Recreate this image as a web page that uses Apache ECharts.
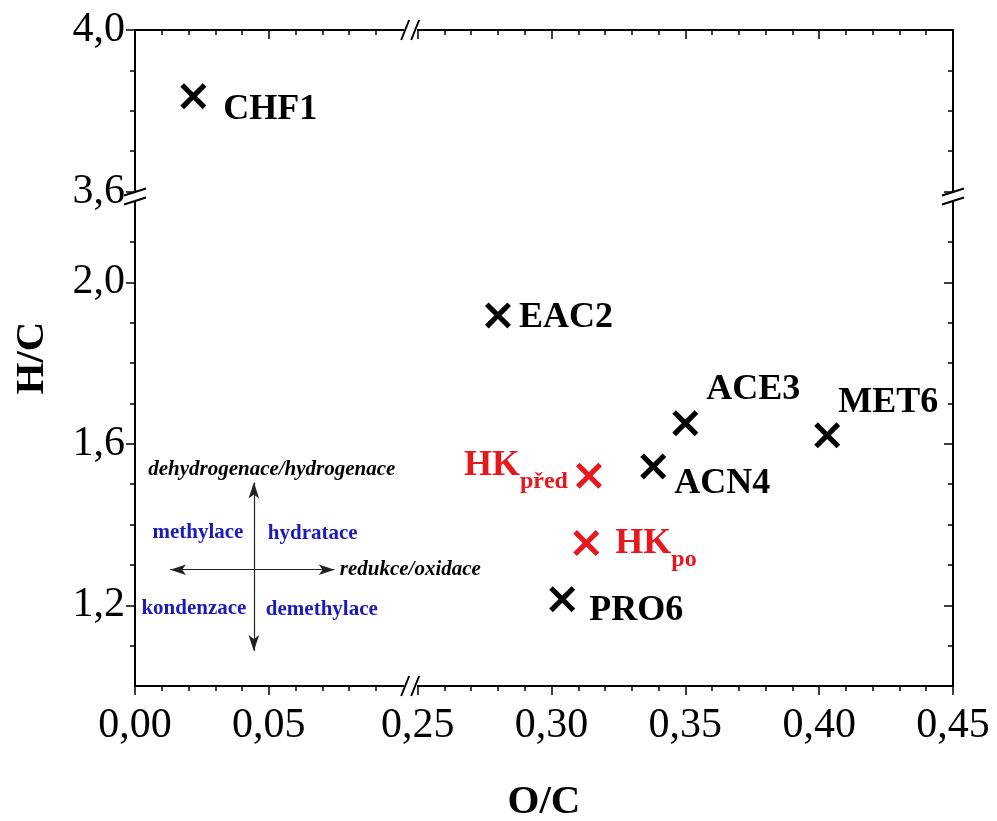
<!DOCTYPE html>
<html>
<head>
<meta charset="utf-8">
<script src="https://cdn.jsdelivr.net/npm/echarts@6/dist/echarts.min.js"></script>
<style>
  html, body { margin: 0; padding: 0; background: #fff; }
  #chart { width: 997px; height: 821px; }
</style>
</head>
<body>
<div id="chart"></div>
<script>
// samples: O/C and H/C ratios
const sampleNames = ['CHF1', 'EAC2', 'ACE3', 'ACN4', 'MET6', 'PRO6'];
const sampleOC = [0.0218, 0.280, 0.350, 0.338, 0.403, 0.304];
const sampleHC = [3.836, 1.918, 1.651, 1.544, 1.621, 1.215];

// HK before / after (red)
const hkNames = ['před', 'po'];
const hkOC = [0.314, 0.313];
const hkHC = [1.521, 1.354];

// van Krevelen direction notes
const noteTexts = ['dehydrogenace/hydrogenace', 'methylace', 'hydratace', 'kondenzace', 'demethylace', 'redukce/oxidace'];
const noteOC = [0.0511, 0.0235, 0.0664, 0.0220, 0.0698, 0.0765];
const noteHC = [1.536, 1.380, 1.377, 1.191, 1.189, 1.288];

// arrows: [x1, y1, x2, y2]
const arrowH = [0.0131, 1.288, 0.0746, 1.288];
const arrowV = [0.0444, 1.504, 0.0444, 1.087];

// axes
const xRange = [0, 0.45];
const yRange = [1.0, 4.0];
const xBreak = [0.10, 0.25];
const yBreak = [2.2, 3.6];
const xMajor = [0.00, 0.05, 0.25, 0.30, 0.35, 0.40, 0.45];
const xMinor = [0.01, 0.02, 0.03, 0.04, 0.06, 0.07, 0.08, 0.09, 0.26, 0.27, 0.28, 0.29,
  0.31, 0.32, 0.33, 0.34, 0.36, 0.37, 0.38, 0.39, 0.41, 0.42, 0.43, 0.44];
const yMajor = [1.2, 1.6, 2.0, 3.6, 4.0];
const yMinor = [1.1, 1.3, 1.4, 1.5, 1.7, 1.8, 1.9, 2.1, 3.7, 3.8, 3.9];

const FONT = 'Liberation Serif';
const RED = '#e8161d';
const BLUE = '#1a1abf';
const crossPath = 'path://M0,14L14,0L50,36L86,0L100,14L64,50L100,86L86,100L50,64L14,100L0,86L36,50Z';

const labelPlace = {
  CHF1: { position: 'right', offset: [12, 13] },
  EAC2: { position: 'right', offset: [3, 2] },
  ACE3: { position: 'right', offset: [3, -33] },
  ACN4: { position: 'right', offset: [3, 17] },
  MET6: { position: 'right', offset: [-7, -33] },
  PRO6: { position: 'right', offset: [9, 11] },
  'před': { position: 'left', offset: [-3, -5] },
  po: { position: 'right', offset: [11, 6] }
};

function comma(v, d) { return v.toFixed(d).replace('.', ','); }

function makeAxis(dim, pos, ticks, len, withLabels) {
  const isX = dim === 'x';
  const range = isX ? xRange : yRange;
  const brk = isX ? xBreak : yBreak;
  return {
    type: 'value',
    position: pos,
    min: range[0],
    max: range[1],
    breaks: [{ start: brk[0], end: brk[1], gap: isX ? 0.0056 : 0.025 }],
    breakArea: { show: false },
    axisLine: { show: true, onZero: false, lineStyle: { color: '#000', width: 2 } },
    axisTick: {
      show: true, customValues: ticks, length: len,
      inside: pos === 'top' || pos === 'right',
      lineStyle: { color: '#000', width: 1.5 }
    },
    axisLabel: withLabels ? {
      show: true, customValues: ticks, margin: isX ? 19 : 10,
      fontFamily: FONT, fontSize: 42, color: '#000',
      formatter: v => comma(v, isX ? 2 : 1)
    } : { show: false },
    splitLine: { show: false },
    minorTick: { show: false }
  };
}

const xAxes = [
  makeAxis('x', 'bottom', xMajor, 9, true),
  makeAxis('x', 'bottom', xMinor, 5, false),
  makeAxis('x', 'top', xMajor, 9, false),
  makeAxis('x', 'top', xMinor, 5, false)
];
Object.assign(xAxes[0], {
  name: 'O/C', nameLocation: 'middle', nameGap: 96,
  nameTextStyle: { fontFamily: FONT, fontSize: 41, fontWeight: 'bold', color: '#000' }
});
const yAxes = [
  makeAxis('y', 'left', yMajor, 9, true),
  makeAxis('y', 'left', yMinor, 5, false),
  makeAxis('y', 'right', yMajor, 9, false),
  makeAxis('y', 'right', yMinor, 5, false)
];
Object.assign(yAxes[0], {
  name: 'H/C', nameLocation: 'middle', nameGap: 82,
  nameTextStyle: { fontFamily: FONT, fontSize: 41, fontWeight: 'bold', color: '#000' }
});

const sampleData = sampleNames.map((n, i) => ({
  name: n, value: [sampleOC[i], sampleHC[i]],
  label: labelPlace[n]
}));
const hkData = hkNames.map((n, i) => ({
  name: n, value: [hkOC[i], hkHC[i]],
  label: labelPlace[n]
}));
const noteData = noteTexts.map((t, i) => ({
  name: t, value: [noteOC[i], noteHC[i]],
  label: {
    position: i === 5 ? 'right' : 'inside',
    color: (i === 0 || i === 5) ? '#000' : BLUE,
    fontStyle: (i === 0 || i === 5) ? 'italic' : 'normal'
  }
}));

const chart = echarts.init(document.getElementById('chart'));
chart.setOption({
  animation: false,
  backgroundColor: '#fff',
  grid: { left: 135, right: 44, top: 30, bottom: 135, outerBoundsMode: 'none', containLabel: false },
  xAxis: xAxes,
  yAxis: yAxes,
  series: [
    {
      type: 'scatter', name: 'samples',
      symbol: crossPath, symbolSize: 26,
      itemStyle: { color: '#000', opacity: 1 },
      label: {
        show: true, formatter: '{b}',
        fontFamily: FONT, fontSize: 36, fontWeight: 'bold', color: '#000'
      },
      data: sampleData
    },
    {
      type: 'scatter', name: 'HK',
      symbol: crossPath, symbolSize: 26,
      itemStyle: { color: RED, opacity: 1 },
      label: {
        show: true, formatter: p => '{m|HK}{s|' + p.name + '}',
        rich: {
          m: { fontFamily: FONT, fontSize: 36, fontWeight: 'bold', color: RED, lineHeight: 36, verticalAlign: 'top' },
          s: { fontFamily: FONT, fontSize: 24, fontWeight: 'bold', color: RED, lineHeight: 46, verticalAlign: 'bottom' }
        }
      },
      data: hkData
    },
    {
      type: 'scatter', name: 'notes', silent: true,
      symbolSize: 0,
      itemStyle: { opacity: 1 },
      label: {
        show: true, formatter: '{b}', distance: 0,
        fontFamily: FONT, fontSize: 21, fontWeight: 'bold'
      },
      data: noteData,
      markLine: {
        silent: true, animation: false,
        symbol: ['arrow', 'arrow'], symbolSize: [8, 16],
        label: { show: false },
        lineStyle: { color: '#222', width: 1.2, type: 'solid', opacity: 1 },
        data: [
          [{ coord: [arrowH[0], arrowH[1]] }, { coord: [arrowH[2], arrowH[3]] }],
          [{ coord: [arrowV[0], arrowV[1]] }, { coord: [arrowV[2], arrowV[3]] }]
        ]
      }
    }
  ]
});

// axis break marks "//" drawn over the frame
(function drawBreakMarks() {
  const px = v => chart.convertToPixel({ xAxisIndex: 0 }, v);
  const py = v => chart.convertToPixel({ yAxisIndex: 0 }, v);
  const left = px(xRange[0]), right = px(xRange[1]);
  const top = py(yRange[1]), bottom = py(yRange[0]);
  const bx = (px(xBreak[0]) + px(xBreak[1])) / 2;
  const by = (py(yBreak[0]) + py(yBreak[1])) / 2;
  const els = [];
  const line = (x1, y1, x2, y2) => ({
    type: 'line', z: 100, silent: true,
    shape: { x1, y1, x2, y2 }, style: { stroke: '#000', lineWidth: 2 }
  });
  [bottom, top].forEach(y => {
    els.push({ type: 'rect', z: 99, silent: true, shape: { x: bx - 4, y: y - 3, width: 8, height: 6 }, style: { fill: '#fff' } });
    els.push(line(bx - 9, y + 10, bx - 1, y - 10));
    els.push(line(bx + 1, y + 10, bx + 9, y - 10));
  });
  [left, right].forEach(x => {
    els.push({ type: 'rect', z: 99, silent: true, shape: { x: x - 3, y: by - 4, width: 6, height: 8 }, style: { fill: '#fff' } });
    els.push(line(x - 11, by - 1, x + 11, by - 8));
    els.push(line(x - 11, by + 8, x + 11, by + 1));
  });
  chart.setOption({ graphic: els });
})();
</script>
</body>
</html>
